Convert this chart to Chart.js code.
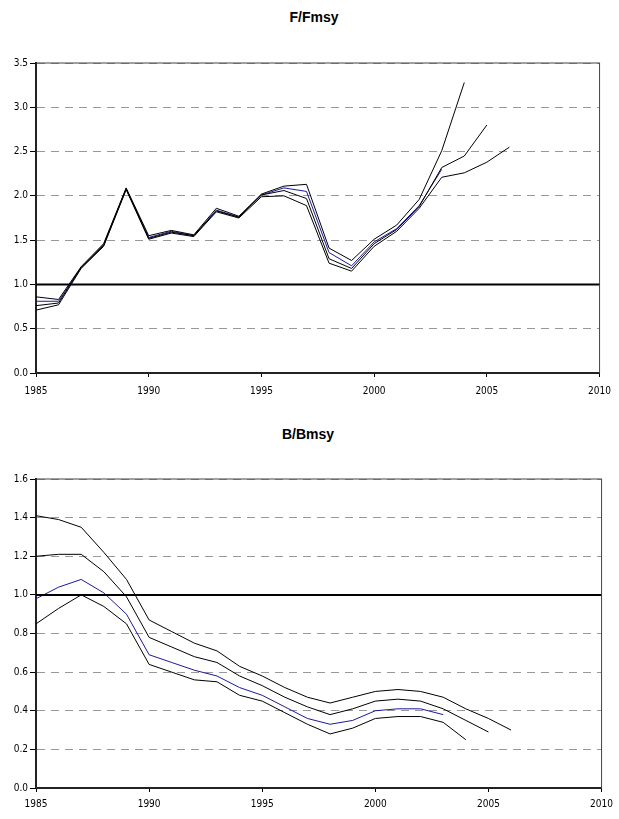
<!DOCTYPE html>
<html>
<head>
<meta charset="utf-8">
<script src="https://cdn.jsdelivr.net/npm/chart.js@4/dist/chart.umd.min.js"></script>
<style>
    body { margin: 0; background: #fff; width: 619px; height: 819px; position: relative; overflow: hidden; }
    .title { position: absolute; width: 200px; text-align: center; font: bold 14px "Liberation Sans", Arial, sans-serif; line-height: 15px; color: #000; }
    .box { position: absolute; left: 0; width: 619px; }
</style>
</head>
<body>
<div class="title" style="left:214px;top:10px">F/Fmsy</div>
<div class="box" style="top:0;height:410px"><canvas id="f-chart"></canvas></div>
<div class="title" style="left:208px;top:427px">B/Bmsy</div>
<div class="box" style="top:410px;height:409px"><canvas id="b-chart"></canvas></div>
<script>
// retrospective runs, each starting in 1985
const years = [1985, 1986, 1987, 1988, 1989, 1990, 1991, 1992, 1993, 1994, 1995,
               1996, 1997, 1998, 1999, 2000, 2001, 2002, 2003, 2004, 2005, 2006];
const xTicks = [1985, 1990, 1995, 2000, 2005, 2010];
const refYears = [1985, 2010];
const refLevel = [1, 1];

// F/Fmsy
const fRun2003 = [0.81, 0.81, 1.19, 1.45, 2.08, 1.53, 1.60, 1.55, 1.84, 1.76, 2.01,
                  2.09, 2.05, 1.36, 1.21, 1.48, 1.63, 1.89, 2.30];
const fRun2004 = [0.86, 0.83, 1.20, 1.46, 2.09, 1.55, 1.61, 1.56, 1.86, 1.77, 2.02,
                  2.11, 2.13, 1.41, 1.27, 1.51, 1.67, 1.96, 2.51, 3.28];
const fRun2005 = [0.76, 0.79, 1.19, 1.44, 2.08, 1.52, 1.59, 1.55, 1.83, 1.76, 2.01,
                  2.06, 1.97, 1.29, 1.18, 1.46, 1.62, 1.88, 2.32, 2.45, 2.80];
const fRun2006 = [0.71, 0.77, 1.18, 1.43, 2.07, 1.51, 1.58, 1.54, 1.82, 1.75, 1.99,
                  2.00, 1.89, 1.24, 1.15, 1.43, 1.60, 1.86, 2.21, 2.26, 2.38, 2.55];

// B/Bmsy
const bRun2003 = [0.98, 1.04, 1.08, 1.01, 0.90, 0.69, 0.65, 0.61, 0.58, 0.52, 0.48,
                  0.42, 0.36, 0.33, 0.35, 0.40, 0.41, 0.41, 0.38];
const bRun2004 = [0.85, 0.93, 1.00, 0.94, 0.85, 0.64, 0.60, 0.56, 0.55, 0.48, 0.45,
                  0.39, 0.33, 0.28, 0.31, 0.36, 0.37, 0.37, 0.34, 0.25];
const bRun2005 = [1.20, 1.21, 1.21, 1.12, 0.99, 0.78, 0.73, 0.68, 0.65, 0.58, 0.53,
                  0.47, 0.42, 0.38, 0.41, 0.45, 0.46, 0.45, 0.41, 0.35, 0.29];
const bRun2006 = [1.41, 1.39, 1.35, 1.22, 1.08, 0.87, 0.81, 0.75, 0.71, 0.63, 0.58,
                  0.52, 0.47, 0.44, 0.47, 0.50, 0.51, 0.50, 0.47, 0.41, 0.36, 0.30];

const tickFont = { family: '"Liberation Sans Narrow", "DejaVu Sans Condensed", Arial, sans-serif', size: 10 };

function toPoints(xs, vals) {
    return vals.map((v, i) => ({ x: xs[i], y: v }));
}

function run(vals, color) {
    return {
        data: toPoints(years, vals),
        borderColor: color,
        borderWidth: 1,
        pointRadius: 0,
        tension: 0
    };
}

// thin frame round the plot area
const frame = {
    id: 'frame',
    beforeDatasetsDraw(chart) {
        const a = chart.chartArea;
        const ctx = chart.ctx;
        ctx.save();
        ctx.strokeStyle = '#444';
        ctx.lineWidth = 1;
        ctx.strokeRect(a.left, a.top, a.right - a.left, a.bottom - a.top);
        ctx.restore();
    }
};

function makeChart(id, runs, yMax, yStep, pad, xHeight, xPad) {
    new Chart(document.getElementById(id), {
        type: 'line',
        data: {
            datasets: [
                {
                    data: toPoints(refYears, refLevel),
                    borderColor: '#000',
                    borderWidth: 2,
                    pointRadius: 0
                },
                run(runs[1], '#000'),
                run(runs[2], '#000'),
                run(runs[3], '#000'),
                run(runs[0], '#1a1a9a')
            ]
        },
        options: {
            responsive: true,
            maintainAspectRatio: false,
            animation: false,
            events: [],
            layout: { padding: { top: pad, right: 9, left: 0, bottom: 0 } },
            plugins: { legend: { display: false }, tooltip: { enabled: false } },
            scales: {
                x: {
                    type: 'linear',
                    min: xTicks[0],
                    max: xTicks[xTicks.length - 1],
                    afterBuildTicks: s => { s.ticks = xTicks.map(v => ({ value: v })); },
                    afterFit: s => { s.height = xHeight; },
                    ticks: { font: tickFont, color: '#000', maxRotation: 0, padding: xPad, callback: v => String(v) },
                    grid: { drawOnChartArea: false, tickLength: 4, tickColor: '#000' },
                    border: { color: '#000', width: 2 }
                },
                y: {
                    min: 0,
                    max: yMax,
                    afterFit: s => { s.width = 36; },
                    ticks: { stepSize: yStep, font: tickFont, color: '#000', padding: 2, callback: v => v.toFixed(1) },
                    grid: { color: '#999', tickColor: '#000', tickLength: 6, tickBorderDash: [] },
                    border: { color: '#000', width: 2, dash: [8, 6] }
                }
            }
        },
        plugins: [frame]
    });
}

makeChart('f-chart', [fRun2003, fRun2004, fRun2005, fRun2006], 3.5, 0.5, 63, 37, 8);
makeChart('b-chart', [bRun2003, bRun2004, bRun2005, bRun2006], 1.6, 0.2, 69, 31, 6);
</script>
</body>
</html>
